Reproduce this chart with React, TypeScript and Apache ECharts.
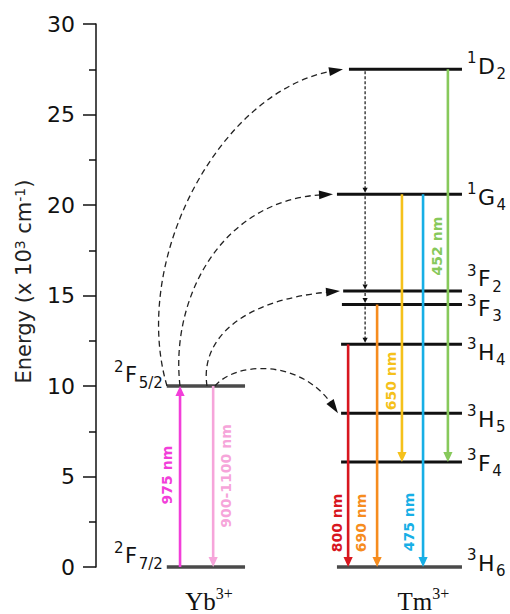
import { useEffect, useRef } from "react";
import * as echarts from "echarts";

// Term symbols: superscript multiplicity, letter, subscript J
const ybTerms = ["2F7/2", "2F5/2"];
const ybEnergy = [0, 10.0]; // x 10^3 cm^-1
const tmTerms = ["3H6", "3F4", "3H5", "3H4", "3F3", "3F2", "1G4", "1D2"];
const tmEnergy = [0, 5.8, 8.5, 12.3, 14.5, 15.25, 20.6, 27.5];

// Radiative transitions
const ybLines = ["975 nm", "900-1100 nm"];
const ybFrom = ["2F7/2", "2F5/2"];
const ybTo = ["2F5/2", "2F7/2"];
const tmLines = ["800 nm", "690 nm", "650 nm", "475 nm", "452 nm"];
const tmFrom = ["3H4", "3F3", "1G4", "1G4", "1D2"];
const tmTo = ["3H6", "3H6", "3F4", "3H6", "3F4"];

// Yb -> Tm energy transfer (all start from Yb 2F5/2)
const transferFrom = "2F5/2";
const transferTo = ["1D2", "1G4", "3F2", "3H5"];

// Non-radiative relaxation cascade
const relaxPath = ["1D2", "1G4", "3F2", "3F3", "3H4"];

const ions = ["Yb", "Tm"];
const ionCharge = "3+";

// ---- layout (x in 0..100 across the plot area) ----
const GRID = { left: 96, right: 0, top: 24, bottom: 47 };
const ybCol = { x0: 17.1, x1: 36.0, ion: 27.3 };
const tmCol = { x0: 59.2, x1: 88.4, ion: 79.1 };
const tmLevelStart: Record<string, number> = { "1D2": 61.1, "1G4": 58.2, "3F2": 59.7, "3F3": 59.4, "3H6": 58.2 };
const tmLabelDy: Record<string, number> = { "1D2": -3, "1G4": 3, "3F2": -12, "3F3": 4, "3H4": 8, "3H5": 6, "3F4": 1, "3H6": -4 };
const ybLabelDy = -11;
const ybArrowLayout = [
  { x: 20.3, labelDx: -13, labelE: 5.08, rot: 1 },
  { x: 28.3, labelDx: 13, labelE: 5.03, rot: 1 },
];
const tmArrowLayout = [
  { x: 60.9, labelDx: -11, labelE: 2.43, rot: 1 },
  { x: 67.9, labelDx: -16, labelE: 2.43, rot: 1 },
  { x: 73.9, labelDx: -11, labelE: 10.28, rot: 1 },
  { x: 79.0, labelDx: -14, labelE: 2.49, rot: 1 },
  { x: 85.0, labelDx: -11, labelE: 17.73, rot: 1 },
];
const ybColors = ["#f23ed9", "#f6a5da"];
const tmColors = ["#d8161f", "#f68c1e", "#f5c11b", "#17afe6", "#87c95b"];
const transferLayout = [
  { x0: 17.15, c1: [8.21, 16.96], c2: [29.95, 26.35], x3: 59.66 },
  { x0: 20.29, c1: [17.87, 14.75], c2: [29.95, 20.28], x3: 57.25 },
  { x0: 26.81, c1: [25.12, 12.54], c2: [34.78, 14.75], x3: 58.94 },
  { x0: 28.74, c1: [33.57, 11.33], c2: [49.28, 11.55], x3: 58.45 },
];
const relaxX = 65.0;

const SANS = '"DejaVu Sans", sans-serif';
const SERIF = '"Liberation Serif", serif';
const INK = "#111";

const energyOf = (term: string) => {
  const i = tmTerms.indexOf(term);
  if (i >= 0) return tmEnergy[i];
  return ybEnergy[ybTerms.indexOf(term)];
};

let mctx: CanvasRenderingContext2D | null = null;
const textWidth = (t: string, font: string) => {
  if (!mctx) mctx = document.createElement("canvas").getContext("2d");
  mctx!.font = font;
  return mctx!.measureText(t).width;
};

// term symbol as three pieces: sup, main letter, sub
function termLabel(term: string, x: number, yc: number, size: number, sSize: number, align: "left" | "right") {
  const sup = term[0];
  const main = term[1];
  const sub = term.slice(2);
  const fMain = `${size}px ${SANS}`;
  const fS = `${sSize}px ${SANS}`;
  const wSup = textWidth(sup, fS);
  const wMain = textWidth(main, fMain);
  const wSub = textWidth(sub, fS);
  const gap = 1.5;
  const total = wSup + gap + wMain + gap + wSub;
  const left = align === "right" ? x - total : x;
  const st = (text: string, font: string) => ({ text, font, fill: INK, align: "left", verticalAlign: "middle" });
  return {
    type: "group",
    children: [
      { type: "text", x: left, y: yc - size * 0.36, style: st(sup, fS) },
      { type: "text", x: left + wSup + gap, y: yc, style: st(main, fMain) },
      { type: "text", x: left + wSup + gap + wMain + gap, y: yc + size * 0.36, style: st(sub, fS) },
    ],
  };
}

function arrowHead(tip: number[], ux: number, uy: number, len: number, half: number, fill: string) {
  const bx = tip[0] - ux * len;
  const by = tip[1] - uy * len;
  return {
    type: "polygon",
    shape: { points: [[tip[0], tip[1]], [bx - uy * half, by + ux * half], [bx + uy * half, by - ux * half]] },
    style: { fill },
  };
}

function buildOption() {
  // level bars
  const levelData = [
    ...ybTerms.map((t, i) => [ybCol.x0, ybEnergy[i], ybCol.x1, 0, i]),
    ...tmTerms.map((t, i) => [tmLevelStart[t] ?? tmCol.x0, tmEnergy[i], tmCol.x1, 1, i]),
  ];

  // vertical transition arrows
  const arrowData = [
    ...ybLines.map((_, i) => [ybArrowLayout[i].x, energyOf(ybFrom[i]), energyOf(ybTo[i]), ybArrowLayout[i].labelE]),
    ...tmLines.map((_, i) => [tmArrowLayout[i].x, energyOf(tmFrom[i]), energyOf(tmTo[i]), tmArrowLayout[i].labelE]),
  ];
  const arrowText = [...ybLines, ...tmLines];
  const arrowColor = [...ybColors, ...tmColors];
  const arrowLayout = [...ybArrowLayout, ...tmArrowLayout];

  // dashed energy-transfer curves
  const e0 = energyOf(transferFrom);
  const transferData = transferTo.map((t, i) => {
    const L = transferLayout[i];
    return [L.x0, e0, L.c1[0], L.c1[1], L.c2[0], L.c2[1], L.x3, energyOf(t)];
  });

  // relaxation steps
  const relaxData = relaxPath.slice(1).map((t, i) => [relaxX, energyOf(relaxPath[i]), energyOf(t)]);

  return {
    animation: false,
    backgroundColor: "#fff",
    grid: { ...GRID, containLabel: false, outerBoundsMode: "none" },
    xAxis: { type: "value", min: 0, max: 100, show: false },
    yAxis: {
      type: "value",
      min: 0,
      max: 30,
      interval: 5,
      axisLine: { show: true, lineStyle: { color: INK, width: 1.5 } },
      axisTick: { show: true, inside: false, length: 13, lineStyle: { color: INK, width: 1.5 } },
      minorTick: { show: true, splitNumber: 2, length: 7, lineStyle: { color: INK, width: 1.5 } },
      splitLine: { show: false },
      axisLabel: { fontSize: 22, fontFamily: SANS, color: INK, margin: 21 },
      name: "Energy (x 10{s|3} cm{s|-1})",
      nameLocation: "middle",
      nameRotate: 90,
      nameGap: 62,
      nameTextStyle: {
        fontSize: 21,
        fontFamily: SANS,
        color: "#222",
        padding: [0, 0, 0, 28],
        rich: { s: { fontSize: 14, fontFamily: SANS, color: "#222", verticalAlign: "top" } },
      },
    },
    series: [
      {
        type: "custom",
        name: "levels",
        silent: true,
        clip: false,
        z: 2,
        data: levelData,
        renderItem: (params: any, api: any) => {
          const ion = api.value(3);
          const idx = api.value(4);
          const a = api.coord([api.value(0), api.value(1)]);
          const b = api.coord([api.value(2), api.value(1)]);
          const ground = api.value(1) === 0;
          const children: any[] = [
            {
              type: "line",
              shape: { x1: a[0], y1: a[1], x2: b[0], y2: b[1] },
              style: { stroke: ground || ion === 0 ? "#4a4a4a" : INK, lineWidth: ground || ion === 0 ? 3.6 : 3 },
            },
          ];
          if (ion === 0) {
            children.push(termLabel(ybTerms[idx], a[0] - 4, a[1] + ybLabelDy, 21, 15, "right"));
          } else {
            const t = tmTerms[idx];
            children.push(termLabel(t, b[0] + 5, a[1] + (tmLabelDy[t] ?? 0), 22, 15, "left"));
          }
          return { type: "group", children };
        },
      },
      {
        type: "custom",
        name: "relaxation",
        silent: true,
        clip: false,
        z: 3,
        data: relaxData,
        renderItem: (params: any, api: any) => {
          const p = api.coord([api.value(0), api.value(1)]);
          const q = api.coord([api.value(0), api.value(2)]);
          return {
            type: "group",
            children: [
              {
                type: "line",
                shape: { x1: p[0], y1: p[1] + 2, x2: q[0], y2: q[1] - 4 },
                style: { stroke: INK, lineWidth: 1.2, lineDash: [3, 2] },
              },
              arrowHead([q[0], q[1] - 1.5], 0, 1, 5, 2.6, INK),
            ],
          };
        },
      },
      {
        type: "custom",
        name: "transitions",
        silent: true,
        clip: false,
        z: 4,
        data: arrowData,
        renderItem: (params: any, api: any) => {
          const i = params.dataIndex;
          const color = arrowColor[i];
          const L = arrowLayout[i];
          const tail = api.coord([api.value(0), api.value(1)]);
          const tip = api.coord([api.value(0), api.value(2)]);
          const dir = tip[1] > tail[1] ? 1 : -1;
          const head = 10;
          const lab = api.coord([api.value(0), api.value(3)]);
          return {
            type: "group",
            children: [
              {
                type: "line",
                shape: { x1: tail[0], y1: tail[1], x2: tip[0], y2: tip[1] - dir * head * 0.7 },
                style: { stroke: color, lineWidth: 2.6 },
              },
              arrowHead(tip, 0, dir, head, 4.6, color),
              {
                type: "text",
                x: tip[0] + L.labelDx,
                y: lab[1],
                rotation: (L.rot * Math.PI) / 2,
                style: {
                  text: arrowText[i],
                  font: `bold 14px ${SANS}`,
                  fill: color,
                  align: "center",
                  verticalAlign: "middle",
                },
              },
            ],
          };
        },
      },
      {
        type: "custom",
        name: "energy transfer",
        silent: true,
        clip: false,
        z: 3,
        data: transferData,
        renderItem: (params: any, api: any) => {
          const p0 = api.coord([api.value(0), api.value(1)]);
          const p1 = api.coord([api.value(2), api.value(3)]);
          const p2 = api.coord([api.value(4), api.value(5)]);
          const p3 = api.coord([api.value(6), api.value(7)]);
          const dx = p3[0] - p2[0];
          const dy = p3[1] - p2[1];
          const len = Math.hypot(dx, dy) || 1;
          const ux = dx / len;
          const uy = dy / len;
          const head = 14;
          return {
            type: "group",
            children: [
              {
                type: "bezierCurve",
                shape: {
                  x1: p0[0], y1: p0[1],
                  cpx1: p1[0], cpy1: p1[1],
                  cpx2: p2[0], cpy2: p2[1],
                  x2: p3[0] - ux * head * 0.7, y2: p3[1] - uy * head * 0.7,
                },
                style: { stroke: "#222", lineWidth: 1.3, lineDash: [6, 4], fill: "none" },
              },
              arrowHead(p3, ux, uy, head, 4.4, INK),
            ],
          };
        },
      },
      {
        type: "custom",
        name: "ions",
        silent: true,
        clip: false,
        z: 2,
        data: [[ybCol.ion, 0], [tmCol.ion, 0]],
        renderItem: (params: any, api: any) => {
          const i = params.dataIndex;
          const p = api.coord([api.value(0), api.value(1)]);
          const fMain = `25px ${SERIF}`;
          const fSup = `16px ${SERIF}`;
          const wMain = textWidth(ions[i], fMain);
          const wSup = textWidth(ionCharge, fSup);
          const left = p[0] - (wMain + wSup) / 2;
          const yc = p[1] + 34;
          return {
            type: "group",
            children: [
              { type: "text", x: left, y: yc, style: { text: ions[i], font: fMain, fill: INK, align: "left", verticalAlign: "middle" } },
              { type: "text", x: left + wMain, y: yc - 8, style: { text: ionCharge, font: fSup, fill: INK, align: "left", verticalAlign: "middle" } },
            ],
          };
        },
      },
    ],
  };
}

export default function App() {
  const ref = useRef<HTMLDivElement>(null);
  useEffect(() => {
    const el = ref.current;
    if (!el) return;
    const chart = echarts.init(el, null, { renderer: "svg" });
    chart.setOption(buildOption() as any);
    return () => chart.dispose();
  }, []);
  return (
    <div
      ref={ref}
      style={{ position: "absolute", left: 0, top: 0, width: 510, height: 614, background: "#fff" }}
    />
  );
}
